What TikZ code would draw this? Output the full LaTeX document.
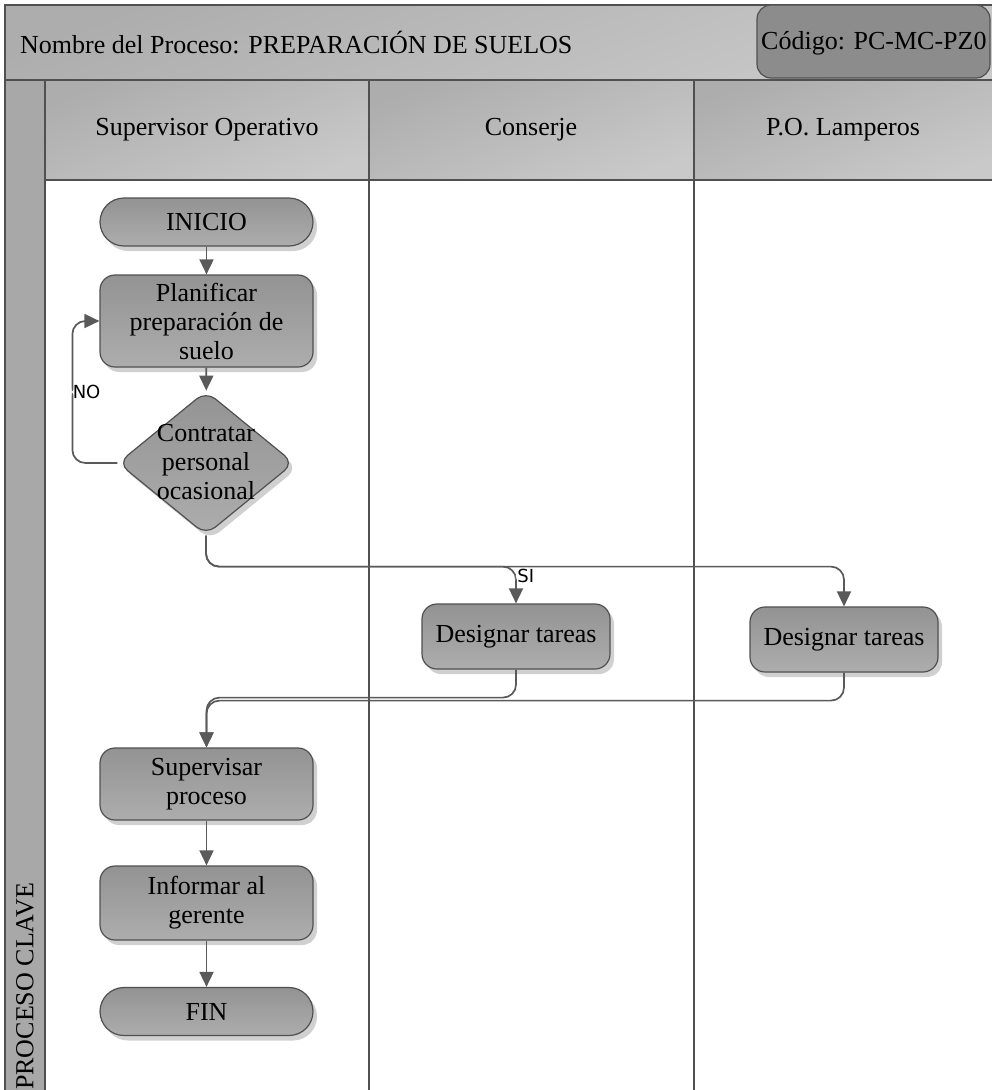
\documentclass[tikz,border=0pt]{standalone}
\usepackage{fontspec}
\setmainfont{Liberation Serif}
\newfontfamily\rotulo{DejaVu Sans}
\usetikzlibrary{shapes,shapes.geometric,arrows.meta,shadows}
\definecolor{borde}{HTML}{505050}
\definecolor{linea}{HTML}{5A5A5A}
\definecolor{caja}{HTML}{939393}
\definecolor{cajaclara}{HTML}{ADADAD}
\definecolor{cabecera}{HTML}{ADADAD}
\definecolor{cabeceraclara}{HTML}{C9C9C9}
\definecolor{codigo}{HTML}{8C8C8C}
\definecolor{franja}{HTML}{A8A8A8}
\definecolor{sombra}{HTML}{D0D0D0}
\tikzset{
  texto/.style={font=\fontsize{26}{29}\selectfont, align=center, inner sep=2pt},
  caja/.style={texto, draw=borde, line width=1.2pt, rounded corners=15pt, minimum width=213pt,
    top color=caja, bottom color=cajaclara,
    drop shadow={shadow xshift=4pt, shadow yshift=-5pt, fill=sombra, opacity=1}},
  extremo/.style={caja, rounded corners=24pt, minimum height=48pt},
  decision/.style={diamond, draw=borde, line width=1.2pt, rounded corners=12pt, inner sep=0pt,
    minimum width=176pt, minimum height=144pt, top color=caja, bottom color=cajaclara,
    drop shadow={shadow xshift=4pt, shadow yshift=-5pt, fill=sombra, opacity=1}},
  celda/.style={draw=borde, line width=1.5pt, top color=cabecera, bottom color=cabeceraclara, shading angle=20},
  flecha/.style={draw=linea, line width=1.7pt, rounded corners=13pt, -{Triangle[length=15pt,width=14pt]}},
  etiqueta/.style={font=\rotulo\fontsize{18}{20}\selectfont, fill=white, inner sep=1.5pt}
}

\begin{document}
\begin{tikzpicture}[x=1pt,y=-1pt]
\useasboundingbox (0,0) rectangle (992,1090);
\fill[white] (0,0) rectangle (992,1090);
\draw[celda] (5,5) rectangle (1000,80);
\draw[draw=borde, line width=1.2pt, fill=codigo, rounded corners=14pt] (757,5) rectangle (990,78);
\node[texto, anchor=west] (titulo) at (18,43) {Nombre del Proceso: PREPARACIÓN DE SUELOS};
\node[texto, anchor=west] (cod) at (759,43) {Código: PC-MC-PZ0};
\draw[celda] (45,80) rectangle (369,180);
\draw[celda] (369,80) rectangle (694,180);
\draw[celda] (694,80) rectangle (1000,180);
\filldraw[draw=borde, line width=1.5pt, fill=franja] (5,80) rectangle (45,1100);
\draw[borde, line width=1.5pt] (369,180)--(369,1100);
\draw[borde, line width=1.5pt] (694,180)--(694,1100);
\node[texto] (supervisor) at (207,130) {Supervisor Operativo};
\node[texto] (conserje) at (531,130) {Conserje};
\node[texto] (lamperos) at (843,130) {P.O. Lamperos};
\node[texto, rotate=90, anchor=west] (clave) at (25,1092) {PROCESO CLAVE};

\node[extremo] (inicio) at (206.5,222) {INICIO};
\node[caja, minimum height=92pt] (plan) at (206.5,321) {Planificar\\preparación de\\suelo};
\node[decision] (dec) at (206,463) {};
\node[texto] (dectexto) at (206,462) {Contratar\\personal\\ocasional};
\node[caja, minimum width=188pt, minimum height=65pt] (tareasc) at (516,636.5) {Designar tareas};
\node[caja, minimum width=188pt, minimum height=65pt] (tareasl) at (844,639.5) {Designar tareas};
\node[caja, minimum height=72pt] (superv) at (206.5,784) {Supervisar\\proceso};
\node[caja, minimum height=74pt] (informe) at (206.5,903) {Informar al\\gerente};
\node[extremo] (fin) at (206.5,1011.5) {FIN};

\draw[flecha] (inicio)--(plan);
\draw[flecha] (plan)--(dec);
\draw[flecha] (dec.west)--++(-45,0) |- node[etiqueta, anchor=west, pos=0.25, xshift=-2pt]{NO} (plan.west);
\draw[flecha] (dec.south)--++(0,31) -| (tareasl.north);
\draw[flecha] (dec.south)--++(0,31) -| node[etiqueta, anchor=west, pos=0.63, xshift=-1pt]{SI} (tareasc.north);
\draw[flecha] (tareasl.south)--++(0,28) -| (superv.north);
\draw[flecha] (tareasc.south)--++(0,28) -| (superv.north);
\draw[flecha] (superv)--(informe);
\draw[flecha] (informe)--(fin);
\end{tikzpicture}
\end{document}
